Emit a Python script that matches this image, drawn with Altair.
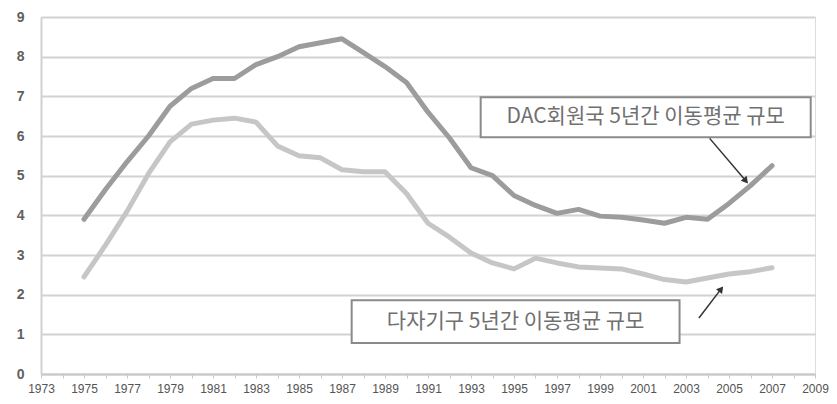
import altair as alt
import pandas as pd

years = list(range(1975, 2008))
dac = [3.9, 4.65, 5.35, 6.0, 6.75, 7.2, 7.45, 7.45, 7.8, 8.0, 8.25, 8.35, 8.45,
       8.1, 7.75, 7.35, 6.6, 5.95, 5.2, 5.0, 4.5, 4.25, 4.05, 4.15, 3.98, 3.95,
       3.88, 3.8, 3.95, 3.9, 4.3, 4.75, 5.25]
multi = [2.45, 3.25, 4.1, 5.05, 5.85, 6.3, 6.4, 6.45, 6.35, 5.75, 5.5, 5.45, 5.15,
         5.1, 5.1, 4.55, 3.8, 3.45, 3.05, 2.8, 2.65, 2.92, 2.8, 2.7, 2.67, 2.65,
         2.52, 2.38, 2.32, 2.42, 2.52, 2.58, 2.68]
series_names = ["DAC", "Multi"]
label_dac = "DAC회원국 5년간 이동평균 규모"
label_multi = "다자기구 5년간 이동평균 규모"

x_domain = [1973, 2009]
y_domain = [0, 9]
all_years = list(range(1973, 2010))
y_ticks = list(range(0, 10))

rows = []
for y, a, b in zip(years, dac, multi):
    rows.append({"year": y, "value": a, "series": "DAC"})
    rows.append({"year": y, "value": b, "series": "Multi"})
df = pd.DataFrame(rows)

# annotation boxes / arrows in data coordinates
boxes = pd.DataFrame([
    {"x": 1993.45, "x2": 2008.8, "y": 6.98, "y2": 5.97, "text": label_dac},
    {"x": 1987.45, "x2": 2002.7, "y": 1.86, "y2": 0.78, "text": label_multi},
])
boxes["xc"] = (boxes["x"] + boxes["x2"]) / 2
boxes["yc"] = (boxes["y"] + boxes["y2"]) / 2

arrows = pd.DataFrame([
    {"x": 2004.1, "y": 5.94, "x2": 2005.75, "y2": 4.89, "angle": 140},
    {"x": 2003.6, "y": 1.41, "x2": 2004.6, "y2": 2.12, "angle": 38},
])

xs = alt.Scale(domain=x_domain, nice=False, zero=False)
ys = alt.Scale(domain=y_domain, nice=False)

base_font = "Liberation Sans"

x_axis = alt.Axis(values=all_years, format="d",
                  labelExpr="datum.value % 2 == 1 ? datum.label : ''",
                  grid=False, tickSize=4, tickColor="#c8c8c8", domainColor="#c8c8c8",
                  domainWidth=2, labelFontSize=12, labelColor="#555",
                  labelPadding=5, labelFont=base_font, labelFlush=False,
                  labelOverlap=False, title=None)
y_axis = alt.Axis(values=y_ticks, grid=True, gridColor="#d2d2d2",
                  gridWidth=2, ticks=False, domainColor="#d2d2d2", domainWidth=2,
                  labelFontSize=14, labelColor="#606060", labelPadding=17,
                  labelFont=base_font, labelFontWeight="bold",
                  labelOverlap=False, title=None)

lines = alt.Chart(df).mark_line(strokeWidth=5, strokeCap="round", strokeJoin="round").encode(
    x=alt.X("year:Q", scale=xs, axis=x_axis),
    y=alt.Y("value:Q", scale=ys, axis=y_axis),
    color=alt.Color("series:N", legend=None,
                    scale=alt.Scale(domain=series_names, range=["#9c9c9c", "#c6c6c6"])),
)

rects = alt.Chart(boxes).mark_rect(fill="white", stroke="#8a8a8a", strokeWidth=2).encode(
    x=alt.X("x:Q", scale=xs, axis=x_axis), x2="x2:Q",
    y=alt.Y("y:Q", scale=ys, axis=y_axis), y2="y2:Q",
)

texts = alt.Chart(boxes).mark_text(fontSize=21, color="#707070",
                                   font="Noto Sans CJK KR").encode(
    x=alt.X("xc:Q", scale=xs, axis=x_axis), y=alt.Y("yc:Q", scale=ys, axis=y_axis),
    text="text:N"
)

arrow_lines = alt.Chart(arrows).mark_rule(color="#333", strokeWidth=1.5).encode(
    x=alt.X("x:Q", scale=xs, axis=x_axis), x2="x2:Q",
    y=alt.Y("y:Q", scale=ys, axis=y_axis), y2="y2:Q",
)

heads = alt.Chart(arrows).mark_point(shape="triangle", filled=True, color="#333",
                                     size=60, opacity=1).encode(
    x=alt.X("x2:Q", scale=xs, axis=x_axis), y=alt.Y("y2:Q", scale=ys, axis=y_axis),
    angle=alt.Angle("angle:Q", scale=None),
)

chart = alt.layer(lines, rects, texts, arrow_lines, heads).properties(
    width=774, height=357,
    autosize=alt.AutoSizeParams(type="none"),
    padding={"left": 33, "top": 9, "right": 14, "bottom": 22},
).configure_view(stroke=None).configure(background="white")

chart.save("out.html", embed_options={"renderer": "svg", "actions": False})
